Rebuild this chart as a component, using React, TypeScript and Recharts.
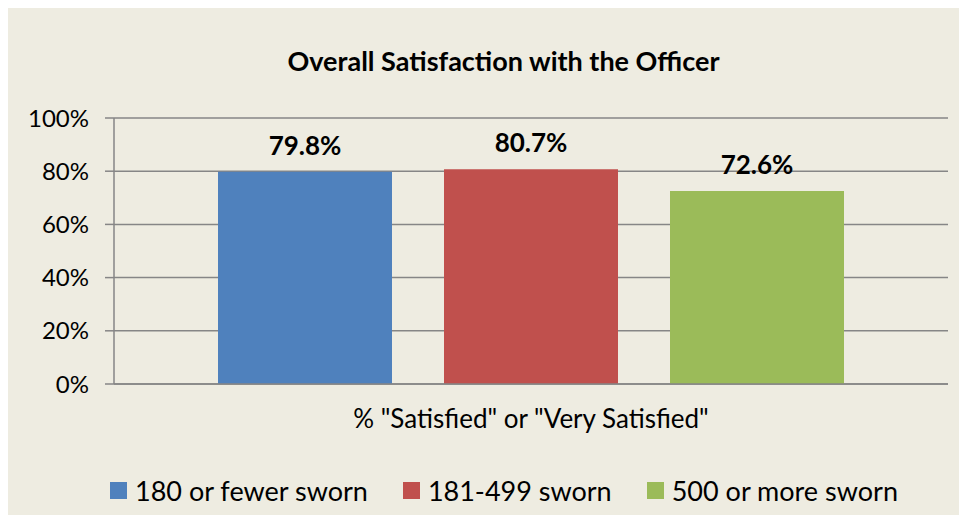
import { BarChart, Bar, XAxis, YAxis, CartesianGrid, Legend, LabelList } from 'recharts';

const CATEGORIES = ['% "Satisfied" or "Very Satisfied"'];
const SERIES_NAMES = ['180 or fewer sworn', '181-499 sworn', '500 or more sworn'];
const SERIES_VALUES = [[79.8], [80.7], [72.6]];
const SERIES_COLORS = ['#4F81BD', '#C0504D', '#9BBB59'];
const Y_TICKS = [0, 20, 40, 60, 80, 100];

const FONT = 'Lato, "Open Sans", sans-serif';

const data = CATEGORIES.map((cat, i) => {
  const row: Record<string, string | number> = { name: cat };
  SERIES_NAMES.forEach((s, j) => { row[s] = SERIES_VALUES[j][i]; });
  return row;
});

function LegendContent() {
  return (
    <div style={{ display: 'flex', alignItems: 'center', fontFamily: FONT, fontSize: 27, color: '#000' }}>
      {SERIES_NAMES.map((s, i) => (
        <div key={s} style={{ display: 'flex', alignItems: 'center', marginRight: i < 2 ? 35 : 0 }}>
          <span style={{ width: 17, height: 17, background: SERIES_COLORS[i], display: 'inline-block', marginRight: 8 }} />
          <span>{s}</span>
        </div>
      ))}
    </div>
  );
}

export default function App() {
  return (
    <div style={{ position: 'relative', width: 959, height: 507, background: '#EEECE1', fontFamily: FONT }}>
      <div style={{
        position: 'absolute', top: 36, left: 0, width: 991, textAlign: 'center',
        fontSize: 27, fontWeight: 700, color: '#000', lineHeight: '34px',
      }}>
        Overall Satisfaction with the Officer
      </div>
      <BarChart
        width={959}
        height={507}
        data={data}
        margin={{ top: 110, right: 19, bottom: 101, left: 0 }}
        barGap={52}
        barSize={174}
      >
        <CartesianGrid vertical={false} stroke="#868686" strokeWidth={1.5} />
        <XAxis
          dataKey="name"
          axisLine={{ stroke: '#868686', strokeWidth: 1.5 }}
          tickLine={false}
          tickMargin={20}
          tick={{ fontSize: 26, fill: '#000', fontFamily: FONT }}
        />
        <YAxis
          domain={[0, 100]}
          ticks={Y_TICKS}
          tickFormatter={(v) => `${v}%`}
          width={106}
          axisLine={{ stroke: '#868686', strokeWidth: 1.5 }}
          tickLine={{ stroke: '#868686', strokeWidth: 1.5 }}
          tickSize={9}
          tickMargin={16}
          tick={{ fontSize: 24, fill: '#000', fontFamily: FONT }}
        />
        <Legend
          layout="horizontal"
          verticalAlign="middle"
          content={<LegendContent />}
          wrapperStyle={{ top: 466, left: 102, width: 'auto' }}
        />
        {SERIES_NAMES.map((s, i) => (
          <Bar key={s} dataKey={s} fill={SERIES_COLORS[i]} isAnimationActive={false}>
            <LabelList
              dataKey={s}
              position="top"
              offset={17}
              formatter={(v: any) => `${v}%`}
              style={{ fontSize: 26, fontWeight: 700, fill: '#000', fontFamily: FONT }}
            />
          </Bar>
        ))}
      </BarChart>
    </div>
  );
}
